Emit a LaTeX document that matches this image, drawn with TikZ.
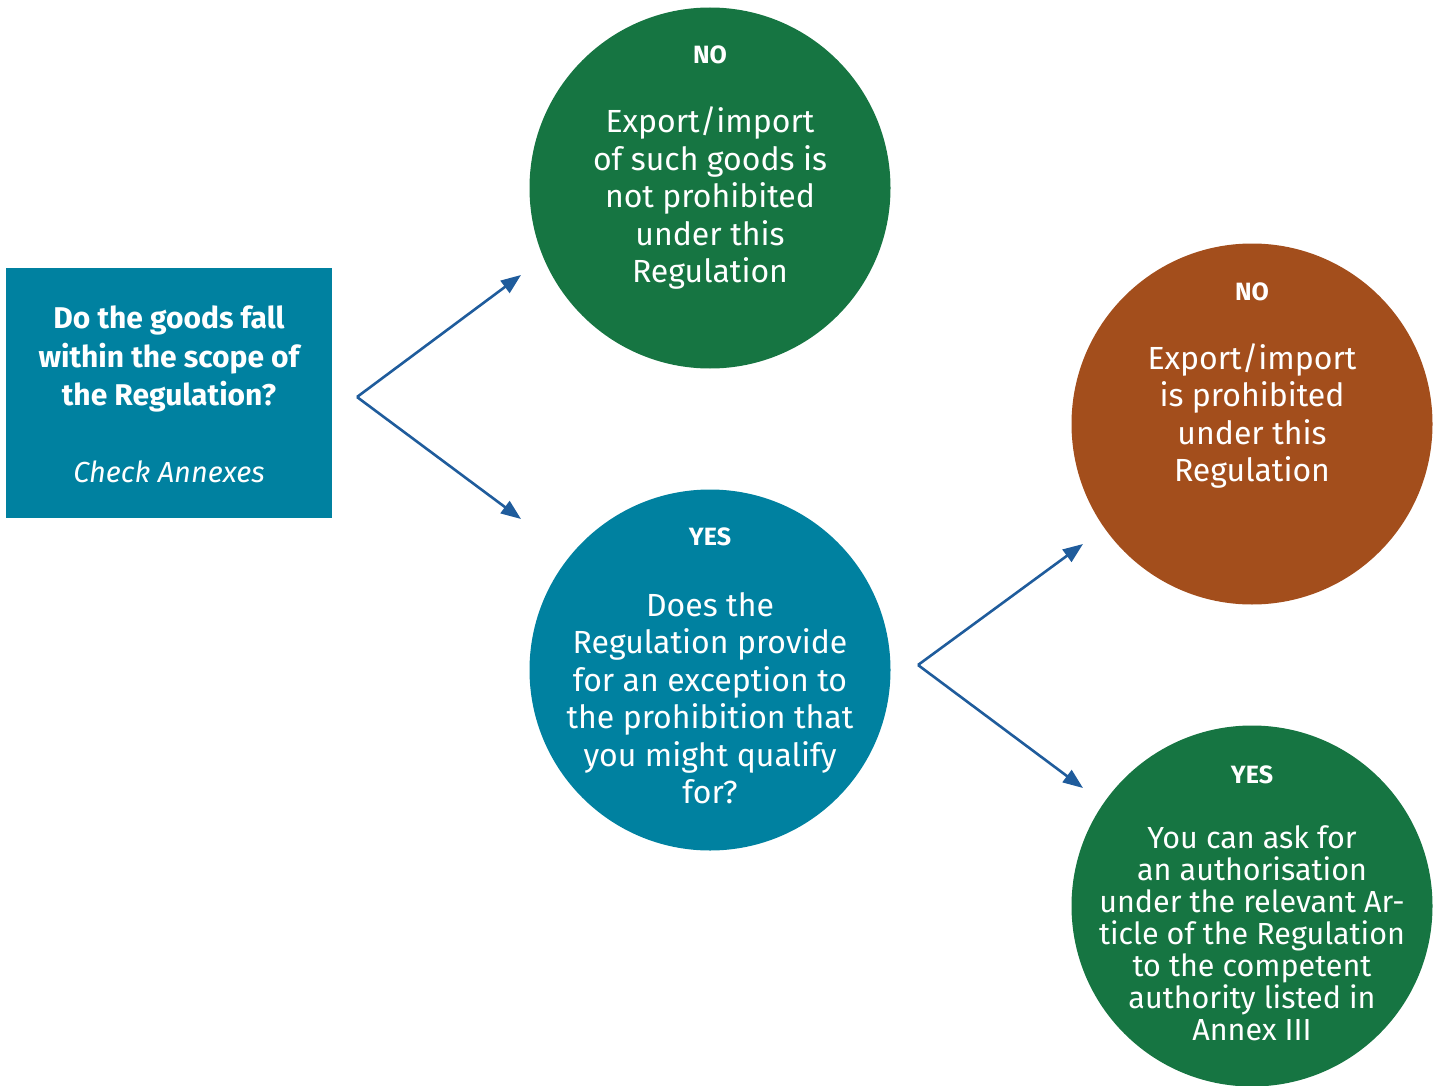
\documentclass[tikz,border=0pt]{standalone}
\usepackage{fontspec}
\setmainfont{Fira Sans}
\usetikzlibrary{arrows.meta}

\definecolor{ecgreen}{HTML}{167542}
\definecolor{ecteal}{HTML}{0081A0}
\definecolor{ecbrown}{HTML}{A34E1C}
\definecolor{ecarrow}{HTML}{1F5C9C}

\tikzset{
	answer/.style={font=\bfseries\fontsize{25}{28}\selectfont},
	body/.style={font=\fontsize{32}{37.5}\selectfont},
	flow/.style={draw=ecarrow,line width=2.6pt,-{Triangle[length=20pt,width=15pt]}}
}

\begin{document}
\begin{tikzpicture}[x=1pt,y=-1pt,text=white,align=center,inner sep=0pt]

	\useasboundingbox (0,0) rectangle (1442,1086);

	\node[fill=ecteal,rectangle,minimum width=326pt,minimum height=250pt] (question) at (169,393) {};

	\begin{scope}[every node/.style={circle,minimum size=361pt}]
		\node[fill=ecgreen] (not_prohib) at (710,188) {};
		\node[fill=ecteal] (exception) at (710,670) {};
		\node[fill=ecbrown] (prohib) at (1252,424) {};
		\node[fill=ecgreen] (authorise) at (1252,906) {};
	\end{scope}

	% question box
	\node[font=\bfseries\fontsize{30}{38.5}\selectfont] at ([yshift=34pt]question.center) {Do the goods fall\\within the scope of\\the Regulation?};
	\node[font=\itshape\fontsize{29}{34}\selectfont] at ([yshift=-79pt]question.center) {Check Annexes};

	% answers
	\node[answer] at ([yshift=133pt]not_prohib.center) {NO};
	\node[body] at ([yshift=-10pt]not_prohib.center) {Export/import\\of such goods is\\not prohibited\\under this\\Regulation};

	\node[answer] at ([yshift=133pt]exception.center) {YES};
	\node[body] at ([yshift=-28pt]exception.center) {Does the\\Regulation provide\\for an exception to\\the prohibition that\\you might qualify\\for?};

	\node[answer] at ([yshift=132pt]prohib.center) {NO};
	\node[body] at ([yshift=8pt]prohib.center) {Export/import\\is prohibited\\under this\\Regulation};

	\node[answer] at ([yshift=131pt]authorise.center) {YES};
	\node[font=\fontsize{30.5}{32}\selectfont] at ([yshift=-27pt]authorise.center) {You can ask for\\an authorisation\\under the relevant Ar-\\ticle of the Regulation\\to the competent\\authority listed in\\Annex III};

	% arrows
	\coordinate (fork_a) at (357,397);
	\coordinate (end_a_no) at (521,275);
	\coordinate (end_a_yes) at (521,519);
	\coordinate (fork_b) at (918,665);
	\coordinate (end_b_no) at (1083,544);
	\coordinate (end_b_yes) at (1083,788);

	\draw[flow] (fork_a) -- (end_a_no);
	\draw[flow] (fork_a) -- (end_a_yes);
	\draw[flow] (fork_b) -- (end_b_no);
	\draw[flow] (fork_b) -- (end_b_yes);

\end{tikzpicture}
\end{document}
